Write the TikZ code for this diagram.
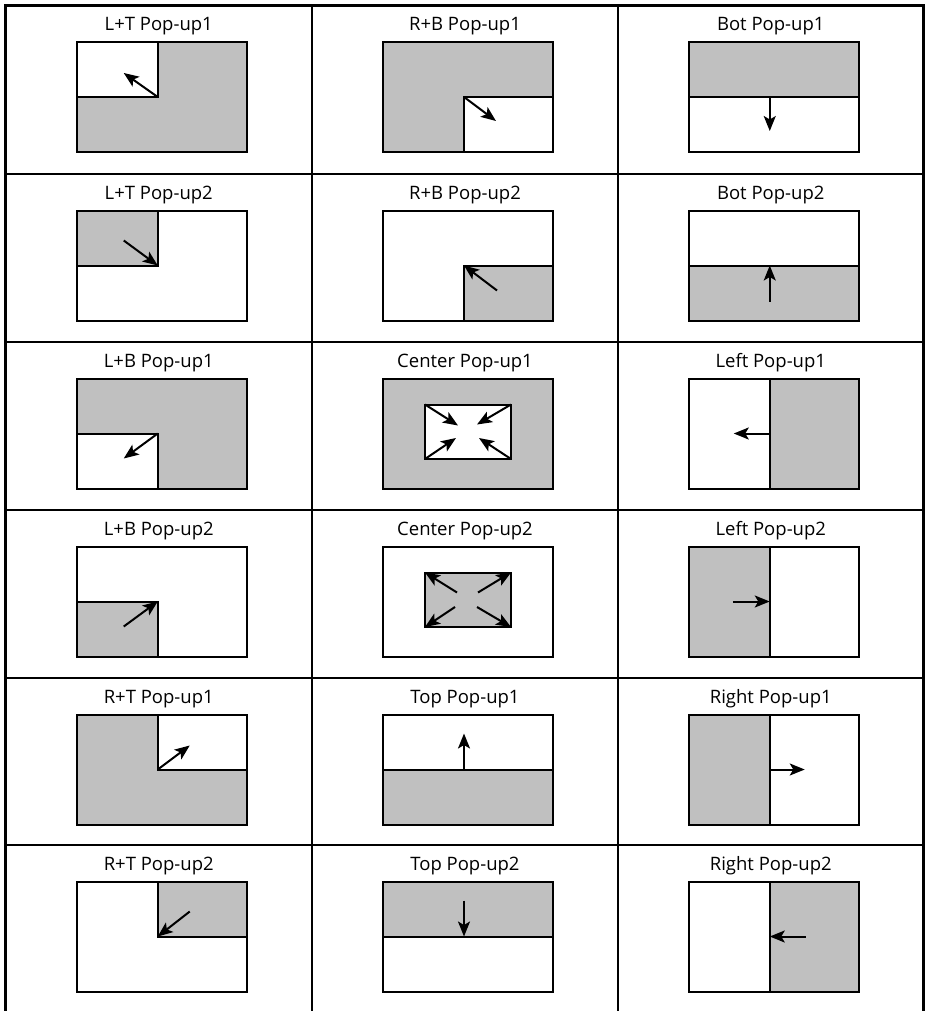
\documentclass[tikz,border=0pt]{standalone}
\usepackage{fontspec}
\setmainfont{Open Sans}
\usetikzlibrary{arrows.meta}
\definecolor{popgray}{HTML}{C0C0C0}
\newcommand\mkcell[4]{%
  \coordinate (#1-nw) at ({#2-82},{#3+36.5});
  \coordinate (#1-ne) at ({#2+88},{#3+36.5});
  \coordinate (#1-sw) at ({#2-82},{#3+146.5});
  \coordinate (#1-se) at ({#2+88},{#3+146.5});
  \coordinate (#1-c)  at ({#2-1},{#3+91.5});
  \coordinate (#1-n)  at ({#2-1},{#3+36.5});
  \coordinate (#1-s)  at ({#2-1},{#3+146.5});
  \coordinate (#1-w)  at ({#2-82},{#3+91.5});
  \coordinate (#1-e)  at ({#2+88},{#3+91.5});
  \coordinate (#1-inw) at ({#2-40},{#3+62.5});
  \coordinate (#1-ine) at ({#2+46},{#3+62.5});
  \coordinate (#1-isw) at ({#2-40},{#3+117});
  \coordinate (#1-ise) at ({#2+46},{#3+117});
  \node[lbl] (#1-lbl) at ({#2},{#3+25.5}) {#4};
}
\begin{document}
\begin{tikzpicture}[x=1pt,y=-1pt,
  lbl/.style={anchor=base,inner sep=0pt,font=\fontsize{18.5}{20}\selectfont},
  bx/.style={draw=black,line width=2pt},
  grid/.style={line width=2pt},
  outer/.style={line width=3.2pt},
  arr/.style={line width=2pt,-{Stealth[length=15pt,width=12pt,inset=3.5pt]}},
  shade/.style={fill=popgray}]
\useasboundingbox (0,0) rectangle (926,1011);
% table grid
\coordinate (t-nw) at (5.5,5.5);
\coordinate (t-ne) at (923.5,5.5);
\coordinate (t-sw) at (5.5,1011);
\coordinate (t-se) at (923.5,1011);
\coordinate (v1t) at (312,5.5); \coordinate (v1b) at (312,1011);
\coordinate (v2t) at (618,5.5); \coordinate (v2b) at (618,1011);
\foreach \y [count=\i] in {174,342,510,678,845}{
  \coordinate (h\i l) at (5.5,\y); \coordinate (h\i r) at (923.5,\y);
  \draw[grid] (h\i l) -- (h\i r);
}
\draw[grid] (v1t) -- (v1b);
\draw[grid] (v2t) -- (v2b);
\draw[outer] (t-sw) -- (t-nw) -- (t-ne) -- (t-se);

% ---------- cells ----------
\mkcell{a1}{158.75}{5.5}{L+T Pop-up1}
\mkcell{b1}{465}{5.5}{R+B Pop-up1}
\mkcell{c1}{770.75}{5.5}{Bot Pop-up1}
\mkcell{a2}{158.75}{174}{L+T Pop-up2}
\mkcell{b2}{465}{174}{R+B Pop-up2}
\mkcell{c2}{770.75}{174}{Bot Pop-up2}
\mkcell{a3}{158.75}{342}{L+B Pop-up1}
\mkcell{b3}{465}{342}{Center Pop-up1}
\mkcell{c3}{770.75}{342}{Left Pop-up1}
\mkcell{a4}{158.75}{510}{L+B Pop-up2}
\mkcell{b4}{465}{510}{Center Pop-up2}
\mkcell{c4}{770.75}{510}{Left Pop-up2}
\mkcell{a5}{158.75}{678}{R+T Pop-up1}
\mkcell{b5}{465}{678}{Top Pop-up1}
\mkcell{c5}{770.75}{678}{Right Pop-up1}
\mkcell{a6}{158.75}{845}{R+T Pop-up2}
\mkcell{b6}{465}{845}{Top Pop-up2}
\mkcell{c6}{770.75}{845}{Right Pop-up2}

% Row 1
\fill[shade] (a1-nw) rectangle (a1-se);
\fill[white] (a1-nw) rectangle (a1-c);
\draw[bx] (a1-w) -- (a1-c) -- (a1-n);
\draw[bx] (a1-nw) rectangle (a1-se);
\draw[arr] (a1-c) -- ++(-34,-24);

\fill[shade] (b1-nw) rectangle (b1-se);
\fill[white] (b1-c) rectangle (b1-se);
\draw[bx] (b1-s) -- (b1-c) -- (b1-e);
\draw[bx] (b1-nw) rectangle (b1-se);
\draw[arr] (b1-c) -- ++(32,24);

\fill[shade] (c1-nw) rectangle (c1-e);
\draw[bx] (c1-w) -- (c1-e);
\draw[bx] (c1-nw) rectangle (c1-se);
\draw[arr] (c1-c) -- ++(0,34);

% Row 2
\fill[shade] (a2-nw) rectangle (a2-c);
\draw[bx] (a2-w) -- (a2-c) -- (a2-n);
\draw[bx] (a2-nw) rectangle (a2-se);
\draw[arr] (a2-c) ++(-34,-25) -- (a2-c);

\fill[shade] (b2-c) rectangle (b2-se);
\draw[bx] (b2-s) -- (b2-c) -- (b2-e);
\draw[bx] (b2-nw) rectangle (b2-se);
\draw[arr] (b2-c) ++(33,25) -- (b2-c);

\fill[shade] (c2-w) rectangle (c2-se);
\draw[bx] (c2-w) -- (c2-e);
\draw[bx] (c2-nw) rectangle (c2-se);
\draw[arr] (c2-c) ++(0,36) -- (c2-c);

% Row 3
\fill[shade] (a3-nw) rectangle (a3-se);
\fill[white] (a3-w) rectangle (a3-s);
\draw[bx] (a3-w) -- (a3-c) -- (a3-s);
\draw[bx] (a3-nw) rectangle (a3-se);
\draw[arr] (a3-c) -- ++(-34,25);

\fill[shade] (b3-nw) rectangle (b3-se);
\draw[bx,fill=white] (b3-inw) rectangle (b3-ise);
\draw[bx] (b3-nw) rectangle (b3-se);
\draw[arr] (b3-inw) -- ++(33,21);
\draw[arr] (b3-ine) -- ++(-34,20);
\draw[arr] (b3-isw) -- ++(31,-21);
\draw[arr] (b3-ise) -- ++(-32,-21);

\fill[shade] (c3-n) rectangle (c3-se);
\draw[bx] (c3-n) -- (c3-s);
\draw[bx] (c3-nw) rectangle (c3-se);
\draw[arr] (c3-c) -- ++(-36,0);

% Row 4
\fill[shade] (a4-w) rectangle (a4-s);
\draw[bx] (a4-w) -- (a4-c) -- (a4-s);
\draw[bx] (a4-nw) rectangle (a4-se);
\draw[arr] (a4-c) ++(-34,25) -- (a4-c);

\draw[bx,fill=popgray] (b4-inw) rectangle (b4-ise);
\draw[bx] (b4-nw) rectangle (b4-se);
\draw[arr] (b4-inw) ++(32,20) -- (b4-inw);
\draw[arr] (b4-ine) ++(-33,20) -- (b4-ine);
\draw[arr] (b4-isw) ++(30,-20) -- (b4-isw);
\draw[arr] (b4-ise) ++(-34,-20) -- (b4-ise);

\fill[shade] (c4-nw) rectangle (c4-s);
\draw[bx] (c4-n) -- (c4-s);
\draw[bx] (c4-nw) rectangle (c4-se);
\draw[arr] (c4-c) ++(-37,0) -- (c4-c);

% Row 5
\fill[shade] (a5-nw) rectangle (a5-se);
\fill[white] (a5-n) rectangle (a5-e);
\draw[bx] (a5-n) -- (a5-c) -- (a5-e);
\draw[bx] (a5-nw) rectangle (a5-se);
\draw[arr] (a5-c) -- ++(32,-24);

\fill[shade] (b5-w) rectangle (b5-se);
\draw[bx] (b5-w) -- (b5-e);
\draw[bx] (b5-nw) rectangle (b5-se);
\draw[arr] (b5-c) -- ++(0,-36);

\fill[shade] (c5-nw) rectangle (c5-s);
\draw[bx] (c5-n) -- (c5-s);
\draw[bx] (c5-nw) rectangle (c5-se);
\draw[arr] (c5-c) -- ++(35,0);

% Row 6
\fill[shade] (a6-n) rectangle (a6-e);
\draw[bx] (a6-n) -- (a6-c) -- (a6-e);
\draw[bx] (a6-nw) rectangle (a6-se);
\draw[arr] (a6-c) ++(32,-25) -- (a6-c);

\fill[shade] (b6-nw) rectangle (b6-e);
\draw[bx] (b6-w) -- (b6-e);
\draw[bx] (b6-nw) rectangle (b6-se);
\draw[arr] (b6-c) ++(0,-36) -- (b6-c);

\fill[shade] (c6-n) rectangle (c6-se);
\draw[bx] (c6-n) -- (c6-s);
\draw[bx] (c6-nw) rectangle (c6-se);
\draw[arr] (c6-c) ++(36,0) -- (c6-c);
\end{tikzpicture}
\end{document}
